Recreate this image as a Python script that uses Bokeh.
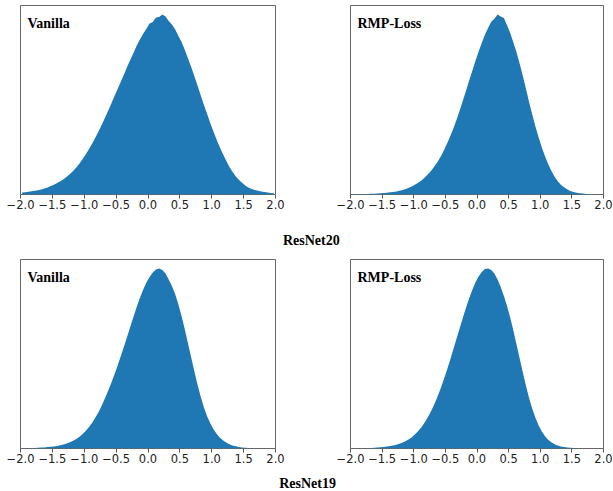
import numpy as np
from bokeh.plotting import figure
from bokeh.models import Range1d, FixedTicker, Label, ColumnDataSource, CustomJSTickFormatter
from bokeh.core.properties import value
from bokeh.layouts import row, column
from bokeh.embed import file_html
from bokeh.resources import INLINE

# ---- data (bin heights, 80 bins of width 0.05 from -2.0 to 2.0; arbitrary count units) ----
X_MIN = -2.0
X_MAX = 2.0

VANILLA_R20 = [2.0, 2.3, 2.7, 3.1, 3.6, 4.2, 5.0, 5.9, 7.0, 8.3,
               9.7, 11.3, 13.1, 15.2, 17.5, 20.2, 23.3, 26.7, 30.6, 35.0,
               39.8, 45.0, 50.5, 56.3, 62.5, 69.0, 75.8, 82.8, 90.0, 97.3,
               104.5, 111.8, 119.0, 126.5, 133.5, 140.5, 147.5, 153.5, 159.0, 164.0,
               169.0, 170.5, 175.0, 175.5, 178.0, 176.0, 171.5, 168.0, 163.5, 157.0,
               151.0, 143.5, 135.0, 126.5, 117.5, 108.0, 98.5, 89.0, 80.0, 71.0,
               62.5, 54.5, 47.0, 40.0, 33.5, 27.5, 22.5, 18.0, 14.5, 11.5,
               9.0, 7.0, 5.5, 4.5, 3.7, 3.0, 2.4, 2.0, 1.6, 1.3]

RMP_R20 = [0.3, 0.3, 0.4, 0.4, 0.5, 0.6, 0.7, 0.8, 1.0, 1.2,
           1.4, 1.7, 2.1, 2.5, 3.0, 3.6, 4.4, 5.4, 6.6, 8.0,
           9.7, 11.6, 13.8, 16.4, 19.5, 23.0, 27.0, 31.5, 36.5, 42.5,
           49.0, 56.0, 63.5, 72.0, 81.0, 90.5, 100.0, 110.0, 119.5, 129.0,
           138.0, 146.5, 154.5, 161.0, 167.0, 170.0, 174.0, 172.0, 170.5, 163.5,
           156.0, 147.0, 137.5, 126.5, 114.5, 102.0, 89.0, 77.0, 65.5, 55.0,
           45.5, 37.0, 29.5, 23.0, 17.5, 13.0, 9.5, 7.0, 5.0, 3.5,
           2.5, 1.8, 1.3, 0.9, 0.6, 0.4, 0.3, 0.2, 0.1, 0.1]

VANILLA_R19 = [0.0, 0.0, 0.1, 0.3, 0.5, 0.7, 0.9, 1.1, 1.4, 1.7,
               2.1, 2.6, 3.2, 4.0, 5.0, 6.2, 7.7, 9.5, 11.7, 14.5,
               17.8, 21.5, 25.8, 30.8, 36.5, 43.0, 50.0, 57.5, 65.5, 74.0,
               83.0, 92.5, 102.0, 112.0, 122.0, 132.0, 141.5, 150.5, 158.5, 165.5,
               171.0, 175.5, 178.5, 179.5, 178.0, 174.5, 168.5, 162.0, 154.0, 144.0,
               132.5, 119.5, 105.5, 91.5, 77.5, 64.0, 52.0, 41.5, 32.5, 25.5,
               19.5, 14.8, 11.0, 8.2, 6.0, 4.3, 3.1, 2.2, 1.6, 1.1,
               0.7, 0.4, 0.1, 0.0, 0.0, 0.0, 0.0, 0.0, 0.0, 0.0]

RMP_R19 = [0.0, 0.0, 0.0, 0.0, 0.1, 0.3, 0.5, 0.7, 0.9, 1.2,
           1.5, 1.9, 2.4, 3.0, 3.8, 4.8, 6.0, 7.5, 9.3, 11.6,
           14.4, 17.7, 21.6, 26.2, 31.5, 37.5, 44.3, 51.8, 60.0, 69.0,
           78.5, 88.5, 99.0, 109.5, 120.0, 130.5, 140.5, 150.0, 158.5, 166.0,
           172.0, 176.5, 179.5, 180.0, 178.5, 175.0, 169.0, 161.5, 152.5, 142.5,
           131.0, 118.0, 104.0, 90.0, 76.0, 62.5, 50.0, 39.5, 30.5, 23.0,
           17.0, 12.3, 8.8, 6.2, 4.3, 3.0, 2.0, 1.4, 1.0, 0.7,
           0.4, 0.2, 0.1, 0.0, 0.0, 0.0, 0.0, 0.0, 0.0, 0.0]

PANEL_TITLES = ["Vanilla", "RMP-Loss"]
ROW_CAPTIONS = ["ResNet20", "ResNet19"]
TICKS = [-2.0, -1.5, -1.0, -0.5, 0.0, 0.5, 1.0, 1.5, 2.0]
TICK_LABELS = ["\u22122.0", "\u22121.5", "\u22121.0", "\u22120.5", "0.0", "0.5", "1.0", "1.5", "2.0"]

BAR_COLOR = "#1f77b4"
FRAME_H = 189
BORDER_B = 20
PAGE_W = 613


def panel(values, title, left, frame_w, right, top):
    n = len(values)
    width = (X_MAX - X_MIN) / n
    centers = X_MIN + width * (np.arange(n) + 0.5)
    ymax = max(values) * 1.05
    p = figure(frame_width=frame_w, frame_height=FRAME_H,
               x_range=Range1d(X_MIN, X_MAX), y_range=Range1d(0, ymax),
               output_backend="svg", toolbar_location=None,
               min_border_left=left, min_border_right=right,
               min_border_top=top, min_border_bottom=BORDER_B)
    src = ColumnDataSource(dict(x=centers, y1=np.zeros(n), y2=list(values)))
    p.varea(x="x", y1="y1", y2="y2", source=src, fill_color=BAR_COLOR)
    p.grid.visible = False
    p.yaxis.visible = False
    ax = p.xaxis[0]
    ax.ticker = FixedTicker(ticks=TICKS)
    ax.formatter = CustomJSTickFormatter(
        args=dict(tvals=TICKS, tlabels=TICK_LABELS),
        code="""
        let best = 0;
        for (let i = 0; i < tvals.length; i++) {
            if (Math.abs(tvals[i] - tick) < Math.abs(tvals[best] - tick)) best = i;
        }
        return tlabels[best];
        """)
    ax.axis_line_color = None
    ax.major_tick_line_color = "#555555"
    ax.major_tick_out = 4
    ax.major_tick_in = 0
    ax.minor_tick_line_color = None
    ax.major_label_text_font = "DejaVu Sans"
    ax.major_label_text_font_size = "11.5px"
    ax.major_label_text_color = "#222222"
    ax.major_label_standoff = 1
    p.outline_line_color = "#666666"
    p.outline_line_width = 1
    p.background_fill_color = "white"
    p.border_fill_color = "white"
    lab = Label(x=X_MIN + 7 * (X_MAX - X_MIN) / frame_w,
                y=ymax * (1 - 17.7 / FRAME_H),
                text=title, text_font="Liberation Serif", text_font_style="bold",
                text_font_size="14px", text_baseline="alphabetic", text_color="black")
    p.add_layout(lab)
    return p


def caption(text, height, baseline_from_bottom, xfrac):
    c = figure(width=PAGE_W, height=height, x_range=Range1d(0, 1),
               y_range=Range1d(0, height), output_backend="svg",
               toolbar_location=None, min_border=0)
    c.axis.visible = False
    c.grid.visible = False
    c.outline_line_color = None
    c.text(x=[xfrac], y=[baseline_from_bottom], text=[text], text_align="center",
           text_baseline="alphabetic", text_font=value("Liberation Serif"),
           text_font_style="bold", text_font_size="14px", text_color="black")
    return c


p1 = panel(VANILLA_R20, PANEL_TITLES[0], 20, 255, 37, 5)
p2 = panel(RMP_R20, PANEL_TITLES[1], 38, 253, 10, 5)
p3 = panel(VANILLA_R19, PANEL_TITLES[0], 20, 255, 37, 1)
p4 = panel(RMP_R19, PANEL_TITLES[1], 38, 253, 10, 1)

layout = column(row(p1, p2), caption(ROW_CAPTIONS[0], 44, 18, 0.507),
                row(p3, p4), caption(ROW_CAPTIONS[1], 22, 7, 0.501))

open("out.html", "w").write(file_html(layout, INLINE))
